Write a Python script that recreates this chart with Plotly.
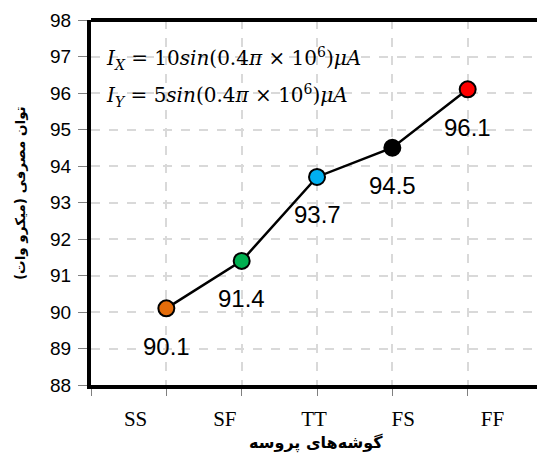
import plotly.graph_objects as go

corners = ["SS", "SF", "TT", "FS", "FF"]
power = [90.1, 91.4, 93.7, 94.5, 96.1]
colors = ["#E46C0A", "#00B050", "#00B0F0", "#000000", "#FF0000"]
y_title = "توان مصرفی (میکرو وات)"
x_title = "گوشه‌های پروسه"
eq_lines = [
    "<i>I</i><sub><i>X</i></sub> = 10<i>sin</i>(0.4<i>π</i> × 10<sup>6</sup>)<i>μA</i>",
    "<i>I</i><sub><i>Y</i></sub> = 5<i>sin</i>(0.4<i>π</i> × 10<sup>6</sup>)<i>μA</i>",
]

n = len(corners)
idx = list(range(n))
x_lo, x_hi = -1, 4.92
# category labels sit centred in equal bands across the full axis width
label_pos = [x_lo + (x_hi - x_lo) * (i + 0.5) / n for i in idx]

fig = go.Figure()
fig.add_trace(go.Scatter(
    x=idx, y=power, mode="lines+markers",
    line=dict(color="black", width=2.5),
    marker=dict(size=16, color=colors, line=dict(color="black", width=2)),
    hoverinfo="skip", showlegend=False,
))

for i, v in zip(idx, power):
    fig.add_annotation(x=i, y=v, text=f"{v:.1f}", showarrow=False, yshift=-38,
                       font=dict(family="Liberation Sans, Arial", size=24, color="black"))

for line, yy in zip(eq_lines, [0.895, 0.792]):
    fig.add_annotation(xref="paper", yref="paper", x=0.03, y=yy, xanchor="left", yanchor="middle",
                       text=line, showarrow=False,
                       font=dict(family="DejaVu Serif", size=20, color="black"))

fig.add_annotation(xref="paper", yref="paper", x=-0.159, y=0.526, textangle=-90,
                   xanchor="center", yanchor="middle", showarrow=False, text=y_title,
                   font=dict(family="DejaVu Sans", size=13.5, color="black", weight="bold"))

fig.add_annotation(xref="paper", yref="paper", x=0.505, y=-0.158,
                   xanchor="center", yanchor="middle", showarrow=False, text=x_title,
                   font=dict(family="DejaVu Sans", size=16, color="black", weight="bold"))

fig.add_shape(type="line", xref="paper", yref="paper", x0=0, x1=1, y0=1, y1=1,
              line=dict(color="black", width=4), layer="above")

fig.update_layout(
    width=537, height=455,
    margin=dict(l=91, r=0, t=20, b=70),
    paper_bgcolor="white", plot_bgcolor="white",
    xaxis=dict(
        range=[x_lo, x_hi], tickmode="array", tickvals=label_pos, ticktext=corners,
        ticks="", showgrid=False, ticklabelstandoff=12,
        tickfont=dict(family="Liberation Serif, Times New Roman", size=21, color="black"),
        minor=dict(tickmode="linear", tick0=0, dtick=1, ticks="outside", ticklen=7,
                   tickcolor="#808080", tickwidth=1,
                   showgrid=True, gridcolor="#D9D9D9", griddash="dash", gridwidth=1.5),
        showline=True, linecolor="black", linewidth=4, zeroline=False,
    ),
    yaxis=dict(
        range=[88, 98], tickmode="linear", tick0=88, dtick=1,
        ticks="outside", ticklen=9, tickcolor="#808080", tickwidth=1,
        ticklabelstandoff=3,
        tickfont=dict(family="Liberation Sans, Arial", size=19, color="black"),
        showgrid=True, gridcolor="#D9D9D9", griddash="dash", gridwidth=1.5,
        showline=True, linecolor="black", linewidth=4, zeroline=False,
    ),
)

fig.write_html("out.html", post_script="document.body.style.margin='0';",
               config={"displayModeBar": False})
